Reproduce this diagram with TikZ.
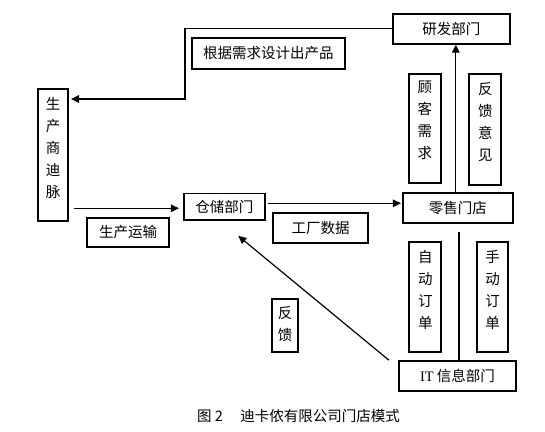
\documentclass[tikz,border=0pt]{standalone}
\usepackage{fontspec}
\setmainfont{Noto Sans CJK SC}
\newfontfamily\serfont{Liberation Serif}
\usetikzlibrary{arrows.meta}
\begin{document}
\begin{tikzpicture}[x=1pt,y=-1pt,
  hbox/.style={draw, line width=1.7pt, inner sep=0pt, font=\fontsize{14.5}{17}\selectfont},
  vbox/.style={draw, line width=1.7pt, inner sep=0pt},
  vtext/.style={align=center, inner sep=0pt, font=\fontsize{14.5}{22}\selectfont},
  conn/.style={line width=1.2pt},
  arr/.style={conn, -{Triangle[length=8pt,width=7.5pt]}}]
\useasboundingbox (0,0) rectangle (545,431);
% horizontal boxes
\node[hbox, minimum width=153pt, minimum height=31pt] (gj) at (268.3,53.3) {根据需求设计出产品};
\node[hbox, minimum width=81pt, minimum height=26.5pt] (cc) at (224.3,206.8) {仓储部门};
\node[hbox, minimum width=82.5pt, minimum height=29.5pt] (ys) at (128,232.5) {生产运输};
\node[hbox, minimum width=95.5pt, minimum height=30pt] (gc) at (320.5,227.8) {工厂数据};
\node[hbox, minimum width=110pt, minimum height=30pt] (ls) at (457.8,207.8) {零售门店};
\node[hbox, minimum width=117pt, minimum height=30pt] (yf) at (451.3,28.8) {研发部门};
\node[hbox, minimum width=117.5pt, minimum height=30pt] (it) at (457.5,376) {{\serfont IT} 信息部门};
% vertical boxes
\node[vbox, minimum width=30.5pt, minimum height=132pt] (sc) at (53,155) {};
\node[vtext] (sct) at (53,148) {生\\产\\商\\迪\\脉};
\node[vbox, minimum width=32pt, minimum height=109.5pt] (gk) at (424.8,128.5) {};
\node[vtext] (gkt) at (424.8,120) {顾\\客\\需\\求};
\node[vbox, minimum width=32pt, minimum height=111pt] (fk) at (485.3,129.3) {};
\node[vtext] (fkt) at (485.3,122) {反\\馈\\意\\见};
\node[vbox, minimum width=32pt, minimum height=110.5pt] (zd) at (425.3,297) {};
\node[vtext] (zdt) at (425.3,290) {自\\动\\订\\单};
\node[vbox, minimum width=31.5pt, minimum height=110.5pt] (sd) at (492.5,297) {};
\node[vtext] (sdt) at (492.5,290) {手\\动\\订\\单};
\node[vbox, minimum width=26.5pt, minimum height=53pt] (fb) at (285,325.8) {};
\node[vtext] (fbt) at (285,324) {反\\馈};
% caption
\node[inner sep=0pt, font=\fontsize{14.5}{17}\selectfont] (cap) at (298.5,415.5) {图 2\hspace{1.2em}迪卡侬有限公司门店模式};
% connectors
\coordinate (t1) at (185,28.8);
\coordinate (t2) at (185,99);
\coordinate (t3) at (71,99);
\coordinate (c1) at ([xshift=2pt,yshift=3.5pt]cc.east);
\draw[arr] (yf.west) -- (t1) -- (t2) -- (t3);
\draw[arr] ([xshift=5pt,yshift=-1.5pt]sc.east |- cc.west) -- ([xshift=-4pt,yshift=-1.5pt]cc.west);
\draw[arr] (c1) -- ([xshift=-1pt]ls.west |- c1);
\draw[arr] ([xshift=-2pt]ls.north) -- ([xshift=-2pt]ls.north |- yf.south);
\draw[conn] ([xshift=1.2pt,yshift=-8pt]ls.south) -- ([xshift=1.5pt]it.north);
\draw[arr] ([xshift=-9pt]it.north west) -- ([xshift=14pt,yshift=-15pt]cc.south);
\end{tikzpicture}
\end{document}
